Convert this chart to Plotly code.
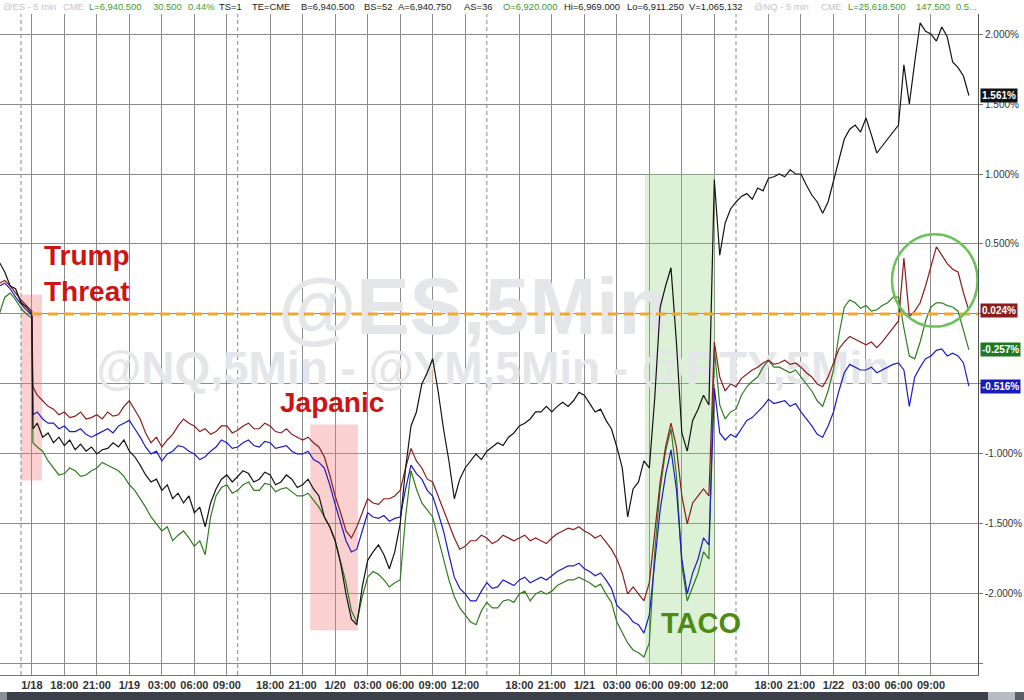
import plotly.graph_objects as go

# ---------------- data ----------------
# x positions: trading hours since the 1/18 session open (gaps compressed), half-hour samples
hours = [-2.0, -1.5, -1.0, -0.5, 0.0, 0.5, 1.0, 1.1,
         1.5, 2.0, 2.5, 3.0, 3.5, 4.0, 4.5, 5.0, 5.5, 6.0,
         6.5, 7.0, 7.5, 8.0, 8.5, 9.0, 9.5, 10.0, 10.5, 11.0,
         11.5, 12.0, 12.5, 13.0, 13.5, 14.0, 14.5, 15.0, 15.5, 16.0,
         16.5, 17.0, 17.5, 18.0, 18.5, 19.0, 19.5, 20.0, 20.5, 21.0,
         21.5, 22.0, 22.5, 23.0, 23.5, 24.0, 24.5, 25.0, 25.5, 26.0,
         26.5, 27.0, 27.5, 28.0, 28.5, 29.0, 29.5, 30.0, 30.5, 31.0,
         31.5, 32.0, 32.5, 33.0, 33.5, 34.0, 34.5, 35.0, 35.5, 36.0,
         36.5, 37.0, 37.5, 38.0, 38.5, 39.0, 39.5, 40.0, 40.5, 41.0,
         41.5, 42.0, 42.5, 43.0, 43.5, 44.0, 44.5, 45.0, 45.5, 46.0,
         46.5, 47.0, 47.5, 48.0, 48.5, 49.0, 49.5, 50.0, 50.5, 51.0,
         51.5, 52.0, 52.5, 53.0, 53.5, 54.0, 54.5, 55.0, 55.5, 56.0,
         56.5, 57.0, 57.5, 58.0, 58.5, 59.0, 59.5, 60.0, 60.5, 61.0,
         61.5, 62.0, 62.5, 63.0, 63.5, 64.0, 64.5, 65.0, 65.5, 66.0,
         66.5, 67.0, 67.5, 68.0, 68.5, 69.0, 69.5, 70.0, 70.5, 71.0,
         71.5, 72.0, 72.5, 73.0, 73.5, 74.0, 74.5, 75.0, 75.5, 76.0,
         76.5, 77.0, 77.5, 78.0, 78.5, 79.0, 79.5, 80.0, 80.5, 81.0,
         81.5, 82.0, 82.5, 83.0, 83.5, 84.0, 84.5, 85.0, 85.5, 86.0,
         86.5, 87.0, 87.5]

black = [0.37, 0.30, 0.20, 0.18, 0.08, 0.05, 0.00, -0.82,
         -0.78, -0.88, -0.85, -0.92, -0.88, -0.94, -0.90, -0.97, -0.93, -0.98,
         -0.95, -1.00, -0.97, -0.96, -0.92, -0.95, -0.90, -0.98, -1.02, -1.08,
         -1.15, -1.20, -1.18, -1.26, -1.22, -1.32, -1.28, -1.35, -1.30, -1.42,
         -1.38, -1.52, -1.35, -1.25, -1.18, -1.15, -1.20, -1.16, -1.12, -1.14,
         -1.20, -1.18, -1.13, -1.15, -1.22, -1.20, -1.15, -1.18, -1.24, -1.22,
         -1.18, -1.25, -1.30, -1.45, -1.52, -1.62, -1.78, -2.00, -2.18, -2.22,
         -1.95, -1.76, -1.70, -1.65, -1.72, -1.82, -1.70, -1.50, -1.10, -0.80,
         -0.70, -0.50, -0.42, -0.32, -0.55, -0.82, -1.05, -1.32, -1.18, -1.10,
         -1.05, -1.00, -1.04, -0.98, -0.95, -0.92, -0.94, -0.88, -0.85, -0.80,
         -0.78, -0.75, -0.70, -0.70, -0.66, -0.70, -0.66, -0.63, -0.66, -0.62,
         -0.56, -0.58, -0.64, -0.70, -0.68, -0.76, -0.82, -0.95, -1.10, -1.45,
         -1.25, -1.20, -1.05, -1.10, -0.60, 0.05, 0.20, 0.33, -0.20, -0.85,
         -0.98, -0.76, -0.68, -0.58, -0.65, 0.96, 0.42, 0.65, 0.75, 0.80,
         0.84, 0.86, 0.82, 0.90, 0.88, 0.97, 0.98, 1.00, 0.98, 1.03,
         1.00, 1.00, 0.92, 0.85, 0.80, 0.72, 0.80, 0.95, 1.12, 1.25,
         1.32, 1.35, 1.30, 1.40, 1.28, 1.15, 1.20, 1.25, 1.30, 1.35,
         1.78, 1.50, 1.80, 2.08, 2.02, 2.00, 1.95, 2.05, 1.98, 1.80,
         1.76, 1.70, 1.561]

red = [0.22, 0.24, 0.20, 0.15, 0.10, 0.06, 0.02, -0.52,
       -0.58, -0.62, -0.66, -0.68, -0.72, -0.70, -0.74, -0.73, -0.70, -0.75,
       -0.74, -0.72, -0.75, -0.70, -0.73, -0.72, -0.66, -0.62, -0.68, -0.75,
       -0.85, -0.92, -0.88, -0.95, -0.90, -0.86, -0.80, -0.75, -0.78, -0.80,
       -0.84, -0.82, -0.86, -0.84, -0.80, -0.80, -0.85, -0.83, -0.80, -0.78,
       -0.82, -0.82, -0.78, -0.80, -0.84, -0.85, -0.82, -0.86, -0.88, -0.90,
       -0.88, -0.92, -0.95, -1.02, -1.15, -1.30, -1.42, -1.55, -1.60, -1.52,
       -1.42, -1.32, -1.35, -1.36, -1.32, -1.32, -1.30, -1.26, -1.10, -0.96,
       -1.05, -1.10, -1.18, -1.20, -1.30, -1.40, -1.50, -1.60, -1.68, -1.66,
       -1.62, -1.62, -1.58, -1.60, -1.64, -1.62, -1.58, -1.60, -1.62, -1.60,
       -1.58, -1.62, -1.60, -1.62, -1.64, -1.60, -1.57, -1.55, -1.53, -1.54,
       -1.52, -1.55, -1.57, -1.60, -1.58, -1.63, -1.68, -1.75, -1.85, -2.00,
       -1.95, -2.00, -2.05, -1.92, -1.55, -1.20, -0.95, -0.78, -0.95, -1.30,
       -1.50, -1.35, -1.30, -1.25, -1.30, -0.20, -0.45, -0.55, -0.50, -0.52,
       -0.46, -0.43, -0.40, -0.38, -0.35, -0.33, -0.36, -0.35, -0.33, -0.36,
       -0.35, -0.38, -0.42, -0.45, -0.50, -0.52, -0.45, -0.35, -0.25, -0.20,
       -0.16, -0.18, -0.20, -0.22, -0.20, -0.24, -0.20, -0.15, -0.10, -0.05,
       0.40, -0.02, 0.02, 0.08, 0.20, 0.35, 0.48, 0.42, 0.36, 0.32,
       0.30, 0.15, 0.024]

blue = [0.20, 0.22, 0.18, 0.12, 0.07, 0.03, -0.01, -0.72,
        -0.70, -0.75, -0.78, -0.78, -0.82, -0.80, -0.84, -0.84, -0.82, -0.86,
        -0.88, -0.86, -0.84, -0.82, -0.85, -0.80, -0.78, -0.76, -0.82, -0.88,
        -0.95, -1.00, -0.98, -1.05, -1.00, -0.98, -0.94, -0.95, -0.98, -1.00,
        -1.04, -1.02, -0.98, -0.95, -0.90, -0.92, -0.96, -0.95, -0.92, -0.90,
        -0.94, -0.95, -0.91, -0.92, -0.96, -0.95, -0.94, -0.98, -1.00, -1.00,
        -0.98, -1.04, -1.06, -1.10, -1.22, -1.36, -1.50, -1.62, -1.70, -1.68,
        -1.55, -1.42, -1.45, -1.46, -1.44, -1.48, -1.46, -1.45, -1.25, -1.08,
        -1.14, -1.18, -1.26, -1.30, -1.42, -1.55, -1.72, -1.88, -1.96, -2.00,
        -2.05, -2.05, -1.98, -1.92, -1.96, -1.95, -1.90, -1.92, -1.94, -1.90,
        -1.88, -1.92, -1.90, -1.88, -1.90, -1.87, -1.84, -1.82, -1.80, -1.80,
        -1.78, -1.82, -1.84, -1.87, -1.85, -1.90, -1.96, -2.08, -2.12, -2.15,
        -2.20, -2.22, -2.28, -2.15, -1.75, -1.40, -1.15, -0.97, -1.25, -1.75,
        -2.00, -1.85, -1.75, -1.60, -1.65, -0.53, -0.85, -0.90, -0.86, -0.88,
        -0.82, -0.76, -0.74, -0.70, -0.66, -0.61, -0.64, -0.63, -0.62, -0.66,
        -0.64, -0.70, -0.75, -0.80, -0.86, -0.88, -0.80, -0.70, -0.55, -0.42,
        -0.36, -0.38, -0.40, -0.40, -0.38, -0.42, -0.40, -0.38, -0.36, -0.35,
        -0.40, -0.66, -0.45, -0.38, -0.32, -0.30, -0.26, -0.25, -0.30, -0.28,
        -0.30, -0.35, -0.516]

green = [0.00, 0.12, 0.15, 0.10, 0.04, 0.00, -0.03, -0.92,
         -0.95, -0.98, -1.05, -1.10, -1.15, -1.14, -1.10, -1.12, -1.16, -1.15,
         -1.12, -1.10, -1.06, -1.08, -1.10, -1.12, -1.16, -1.22, -1.26, -1.32,
         -1.38, -1.45, -1.50, -1.55, -1.52, -1.62, -1.58, -1.55, -1.60, -1.66,
         -1.62, -1.72, -1.45, -1.30, -1.24, -1.22, -1.28, -1.26, -1.22, -1.20,
         -1.26, -1.26, -1.21, -1.22, -1.27, -1.25, -1.24, -1.27, -1.30, -1.30,
         -1.28, -1.33, -1.38, -1.45, -1.52, -1.62, -1.78, -1.92, -2.12, -2.20,
         -2.02, -1.88, -1.84, -1.86, -1.90, -1.95, -1.92, -1.90, -1.45, -1.12,
         -1.25, -1.35, -1.40, -1.45, -1.60, -1.75, -1.90, -2.02, -2.10, -2.15,
         -2.20, -2.22, -2.12, -2.06, -2.10, -2.10, -2.05, -2.04, -2.06, -2.00,
         -1.98, -2.05, -2.00, -1.98, -2.00, -1.98, -1.94, -1.92, -1.90, -1.90,
         -1.88, -1.90, -1.92, -1.95, -1.93, -2.00, -2.06, -2.20, -2.28, -2.35,
         -2.40, -2.42, -2.45, -2.35, -1.70, -1.25, -0.98, -0.82, -1.15, -1.80,
         -2.05, -1.95, -1.85, -1.70, -1.75, -0.25, -0.65, -0.75, -0.70, -0.68,
         -0.58, -0.52, -0.48, -0.45, -0.38, -0.33, -0.38, -0.38, -0.40, -0.42,
         -0.40, -0.45, -0.50, -0.55, -0.62, -0.66, -0.55, -0.40, -0.15, 0.05,
         0.10, 0.08, 0.04, 0.06, 0.02, 0.03, 0.06, 0.08, 0.12, 0.12,
         -0.10, -0.30, -0.32, -0.20, -0.05, 0.05, 0.08, 0.08, 0.06, 0.05,
         0.02, -0.12, -0.257]

tick_hours = [1, 4, 7, 10, 13, 16, 19, 23, 26, 29, 32, 35, 38, 41, 46, 49, 52, 55, 58,
              61, 64, 69, 72, 75, 78, 81, 84]
tick_labels = ["1/18", "18:00", "21:00", "1/19", "03:00", "06:00", "09:00", "18:00", "21:00",
               "1/20", "03:00", "06:00", "09:00", "12:00", "18:00", "21:00", "1/21", "03:00",
               "06:00", "09:00", "12:00", "18:00", "21:00", "1/22", "03:00", "06:00", "09:00"]
session_breaks = [0, 20, 43, 66]

y_ticks = [2, 1.5, 1, 0.5, 0, -0.5, -1, -1.5, -2, -2.5]
y_labels = ["2.000%", "1.500%", "1.000%", "0.500%", "", "", "-1.000%", "-1.500%", "-2.000%", ""]

# highlighted episodes: (start hour, end hour, low %, high %)
trump_box = (0.0, 1.94, -1.19, 0.14)
japan_box = (26.7, 31.1, -2.26, -0.79)
taco_box = (57.6, 64.06, -2.5, 1.0)
circle_box = (80.4, 88.3, -0.09, 0.57)
start_level = 0.0

# ---------------- figure ----------------
X_RANGE = [-1.94, 88.34]
Y_RANGE = [-2.579, 2.143]
PLOT_W = 978
PLOT_H = 661

fig = go.Figure()

# watermark (drawn first so lines sit on top)
fig.add_trace(go.Scatter(x=[41.7], y=[0.0], mode="text", text=["@ES,5Min"],
                         textfont=dict(size=80, color="#e4e6ea", family="Arial", weight="bold"),
                         hoverinfo="skip", showlegend=False))
fig.add_trace(go.Scatter(x=[43.6], y=[-0.42], mode="text",
                         text=["@NQ,5Min - @YM,5Min - @RTY,5Min"],
                         textfont=dict(size=46, color="#e4e6ea", family="Arial", weight="bold"),
                         hoverinfo="skip", showlegend=False))

series = [("YM", green, "#2f7d1f"), ("NQ", blue, "#1c1cc4"),
          ("ES", red, "#8b1d1d"), ("RTY", black, "#141414")]
for name, vals, col in series:
    n = min(len(hours), len(vals))
    fig.add_trace(go.Scatter(x=hours[:n], y=vals[:n], mode="lines", name=name,
                             line=dict(color=col, width=1.2), showlegend=False))

shapes = []
for h in session_breaks:
    shapes.append(dict(type="line", xref="x", yref="paper", x0=h, x1=h, y0=0, y1=1,
                       line=dict(color="#888888", width=1, dash="4px,3px"), layer="below"))
for box, fillc in [(trump_box, "rgba(240,120,120,0.35)"),
                   (japan_box, "rgba(240,120,120,0.35)"),
                   (taco_box, "rgba(140,210,120,0.30)")]:
    shapes.append(dict(type="rect", xref="x", yref="y", x0=box[0], x1=box[1],
                       y0=box[2], y1=box[3], fillcolor=fillc, line=dict(width=0),
                       layer="between"))
shapes.append(dict(type="line", xref="x", yref="y", x0=1, x1=X_RANGE[1],
                   y0=start_level, y1=start_level,
                   line=dict(color="#f0a830", width=3, dash="10px,6px"), layer="above"))
shapes.append(dict(type="circle", xref="x", yref="y", x0=circle_box[0], x1=circle_box[1],
                   y0=circle_box[2], y1=circle_box[3],
                   line=dict(color="#6cc25a", width=2.5), layer="above"))


def py(px):
    return (675 - px) / PLOT_H


# bottom status bar
bar_parts = [(0, 7, "#8a8f96"), (7, 988, "#3b4049"), (988, 1015, "#b8bcc2"),
             (1015, 1024, "#5a5f66")]
for x0, x1, c in bar_parts:
    shapes.append(dict(type="rect", xref="paper", yref="paper", x0=x0 / PLOT_W,
                       x1=x1 / PLOT_W, y0=py(701), y1=py(692), fillcolor=c,
                       line=dict(width=0), layer="above"))

ann = []
# header line
GRN, BLK, GRY = "#3d9b35", "#222222", "#c4c4c4"
header = [(2, "@ES - 5 min", GRY), (62, "CME", GRY), (88, "L=6,940.500", GRN),
          (152, "30.500", GRN), (187, "0.44%", GRN), (218, "TS=1", BLK),
          (251, "TE=CME", BLK), (300, "B=6,940.500", BLK), (363, "BS=52", BLK),
          (397, "A=6,940.750", BLK), (463, "AS=36", BLK),
          (502, "O=6,920.000", GRN), (563, "Hi=6,969.000", BLK),
          (626, "Lo=6,911.250", BLK), (688, "V=1,065,132", BLK),
          (753, "@NQ - 5 min", GRY), (820, "CME", GRY), (847, "L=25,618.500", GRN),
          (915, "147.500", GRN), (955, "0.5...", GRN)]
for px, txt, col in header:
    ann.append(dict(xref="paper", yref="paper", x=px / PLOT_W, y=1 + 7 / PLOT_H,
                    xanchor="left", yanchor="middle", text=txt, showarrow=False,
                    borderpad=0, font=dict(size=9.4, color=col, family="Arial")))

# commentary labels
label_font = dict(size=28, color="#cc1414", family="Arial", weight="bold")
ann.append(dict(xref="x", yref="y", x=1.9, y=0.42, text="Trump", showarrow=False,
                xanchor="left", yanchor="middle", font=label_font))
ann.append(dict(xref="x", yref="y", x=1.9, y=0.16, text="Threat", showarrow=False,
                xanchor="left", yanchor="middle", font=label_font))
ann.append(dict(xref="x", yref="y", x=23.7, y=-0.635, text="Japanic", showarrow=False,
                xanchor="left", yanchor="middle", font=label_font))
ann.append(dict(xref="x", yref="y", x=58.9, y=-2.207, text="TACO", showarrow=False,
                xanchor="left", yanchor="middle",
                font=dict(size=29, color="#4f8a14", family="Arial", weight="bold")))

# last value tags on the right axis
for vals, col in [(black, "#111111"), (red, "#8b1d1d"), (green, "#1f7a1f"), (blue, "#1a1ab8")]:
    ann.append(dict(xref="paper", yref="y", x=1, y=vals[-1], xanchor="left", yanchor="middle",
                    xshift=2, text="%.3f%%" % vals[-1], showarrow=False, bgcolor=col,
                    borderpad=1, font=dict(size=10, color="white", family="Arial", weight="bold")))

fig.update_layout(
    width=1024, height=700,
    margin=dict(l=0, r=46, t=14, b=25, autoexpand=False),
    paper_bgcolor="white", plot_bgcolor="white",
    shapes=shapes, annotations=ann, showlegend=False,
    xaxis=dict(range=X_RANGE, tickmode="array", tickvals=tick_hours, ticktext=tick_labels,
               showgrid=True, gridcolor="#8c8c8c", gridwidth=1, zeroline=False,
               showline=True, linecolor="#777777", linewidth=1, ticks="", automargin=False,
               tickfont=dict(size=11, color="#333333", family="Arial", weight="bold")),
    yaxis=dict(range=Y_RANGE, side="right", tickmode="array", tickvals=y_ticks,
               ticktext=y_labels, showgrid=True, gridcolor="#8c8c8c", gridwidth=1,
               zeroline=False, showline=True, linecolor="#555555", linewidth=1,
               ticks="outside", ticklen=4, tickcolor="#777777", automargin=False,
               tickfont=dict(size=10, color="#333333", family="Arial")),
)

fig.write_html("out.html", config={"displayModeBar": False},
               post_script="document.body.style.margin='0';document.body.style.overflow='hidden';")
